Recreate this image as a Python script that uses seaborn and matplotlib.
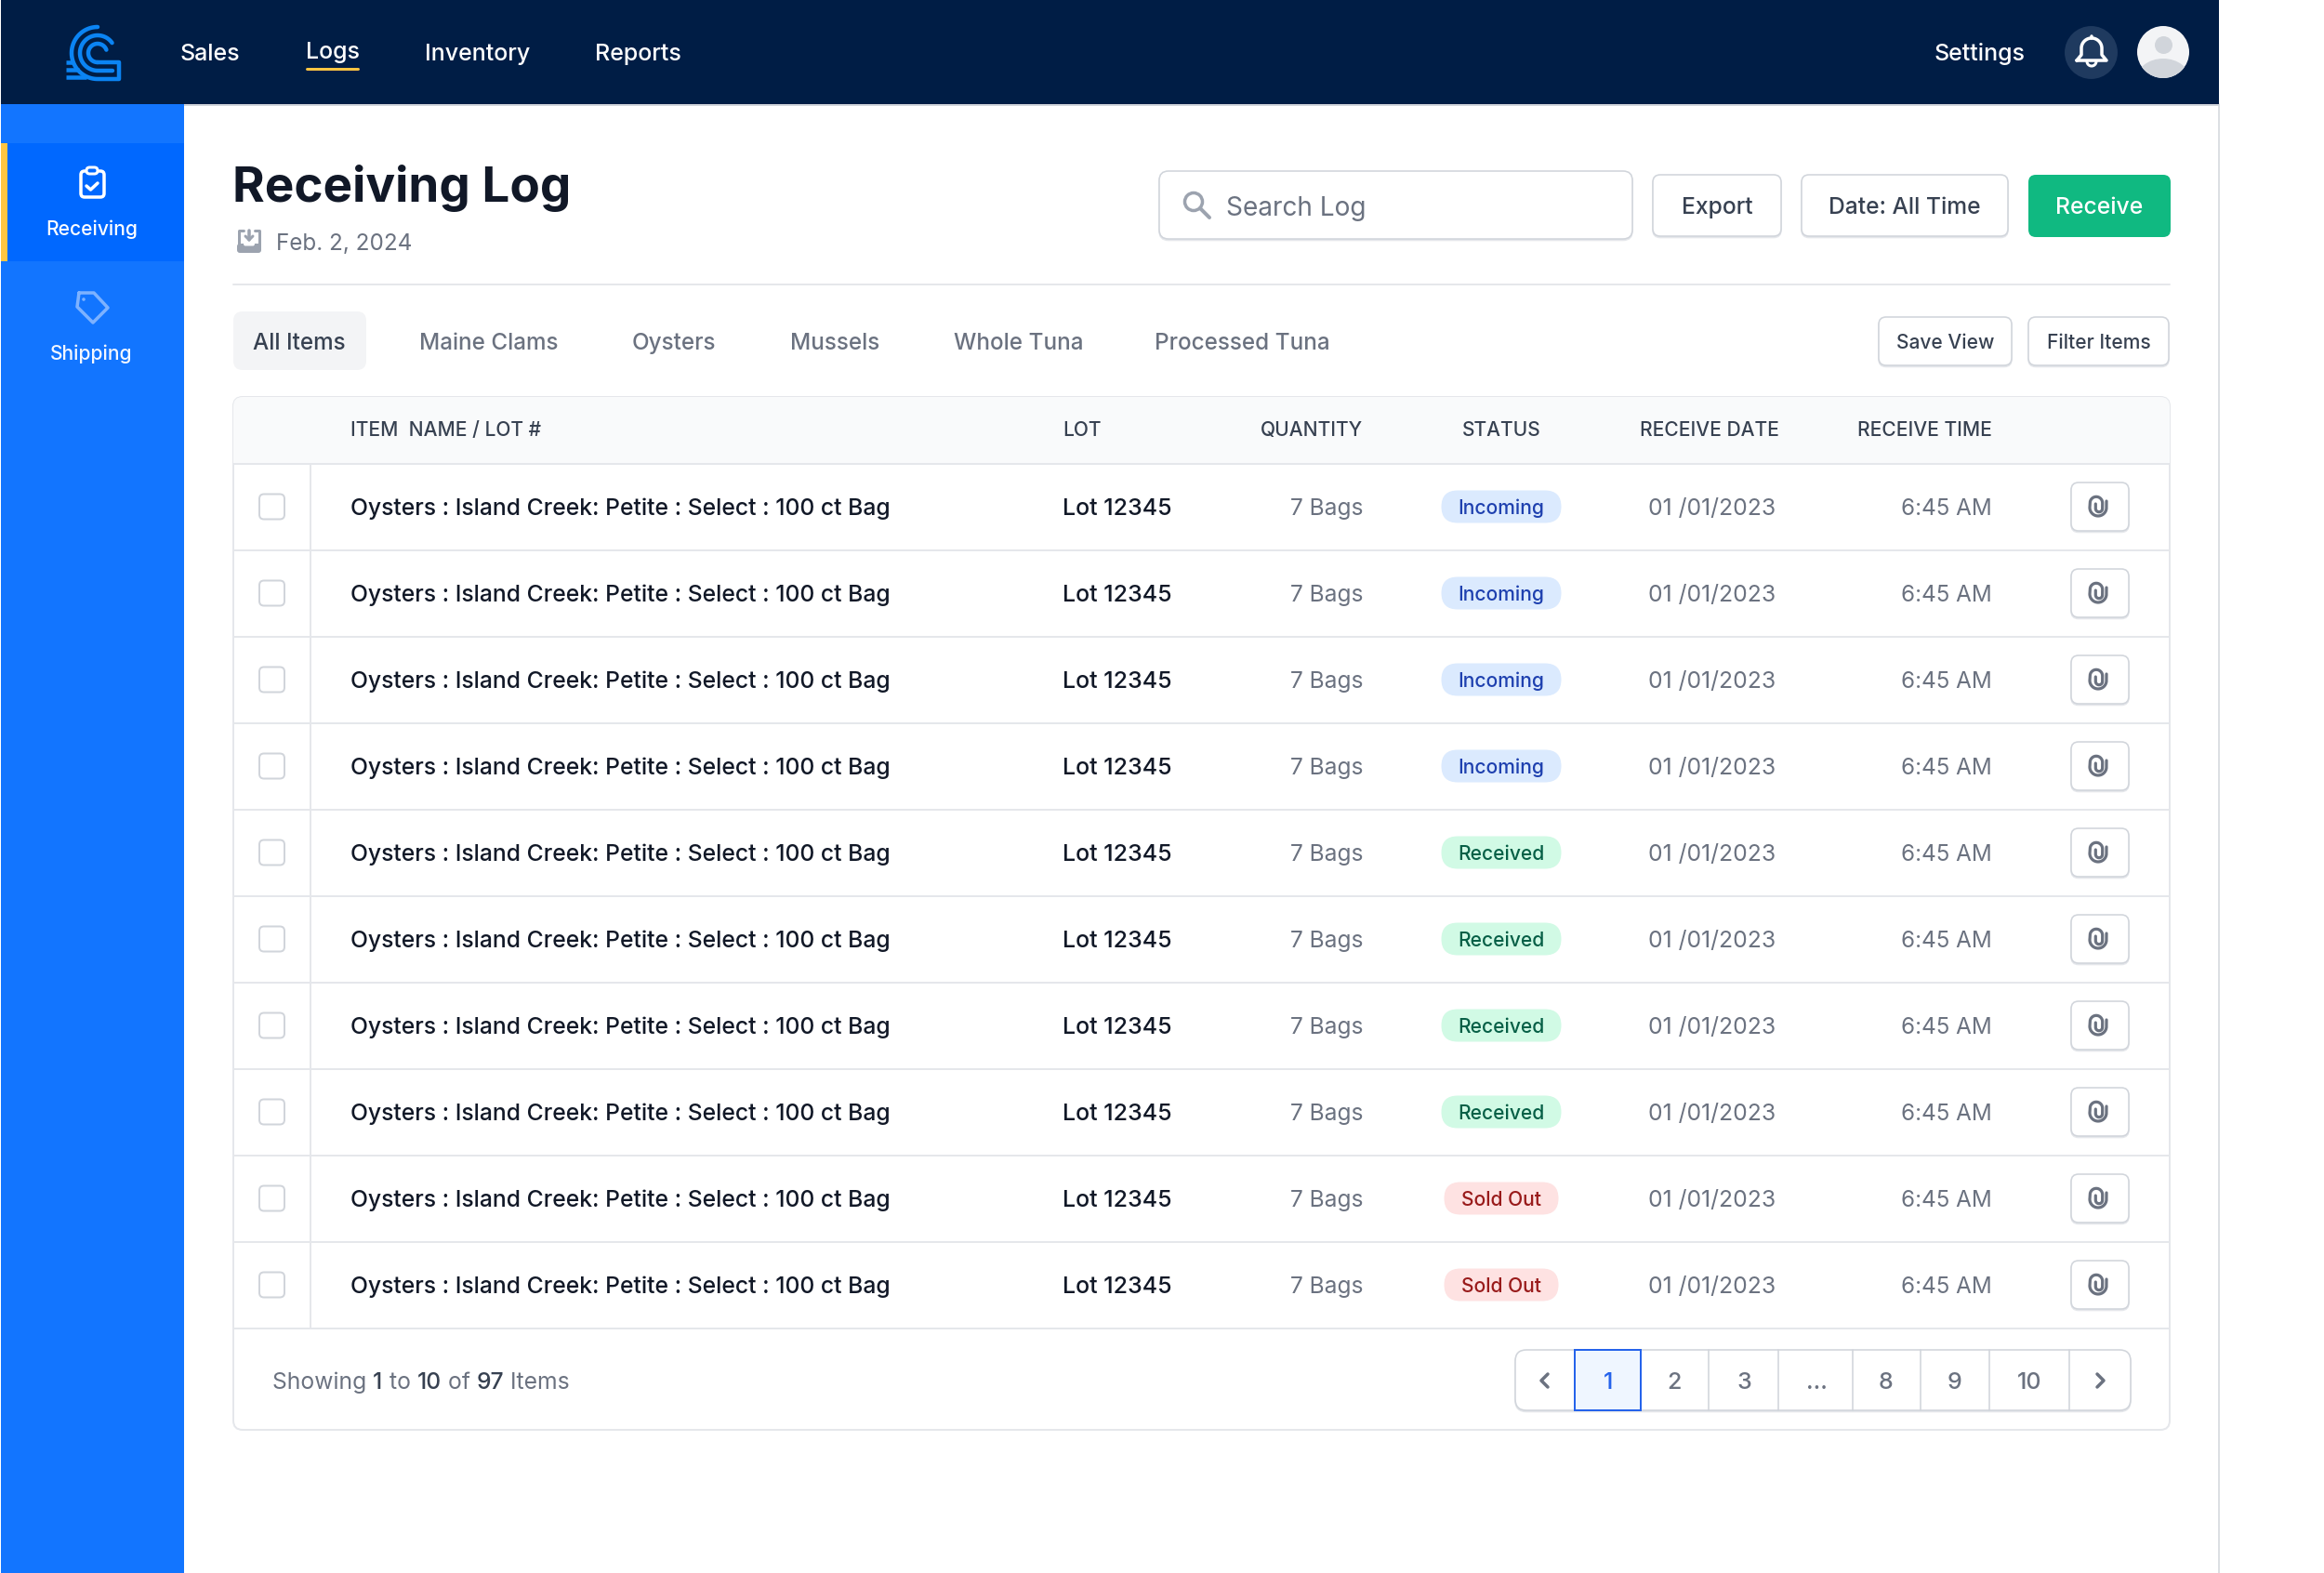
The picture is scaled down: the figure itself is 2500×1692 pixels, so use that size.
import numpy as np
import pandas as pd
import seaborn as sns
import matplotlib
matplotlib.use("Agg")
import matplotlib.pyplot as plt
from matplotlib.patches import FancyBboxPatch, Rectangle, Circle, Ellipse

sns.set_theme(style="white")
plt.rcParams['font.family'] = ['Inter', 'DejaVu Sans']

# data
nav_items = ['Sales', 'Logs', 'Inventory', 'Reports']
side_items = ['Receiving', 'Shipping']
tabs = ['All Items', 'Maine Clams', 'Oysters', 'Mussels', 'Whole Tuna', 'Processed Tuna']
columns = ['ITEM  NAME / LOT #', 'LOT', 'QUANTITY', 'STATUS', 'RECEIVE DATE', 'RECEIVE TIME']
items = ['Oysters : Island Creek: Petite : Select : 100 ct Bag'] * 10
lots = ['Lot 12345'] * 10
quantities = ['7 Bags'] * 10
statuses = ['Incoming'] * 4 + ['Received'] * 4 + ['Sold Out'] * 2
dates = ['01 /01/2023'] * 10
times = ['6:45 AM'] * 10
pages = ['1', '2', '3', '...', '8', '9', '10']

df = pd.DataFrame({'item': items, 'lot': lots, 'qty': quantities,
                   'status': statuses, 'date': dates, 'time': times})

# colours
NAVY = '#001D45'
BLUE = '#1275FF'
ACTIVE = '#0068FF'
YELLOW = '#FFC542'
LINE = '#E5E7EB'
BORDER = '#D1D5DB'
GRAY = '#6B7280'
DARK = '#374151'
INK = '#111827'
pill_bg = {'Incoming': '#DBEAFE', 'Received': '#D1FAE5', 'Sold Out': '#FEE2E2'}
pill_fg = {'Incoming': '#1E40AF', 'Received': '#065F46', 'Sold Out': '#991B1B'}
pill_w = {'Incoming': 129, 'Received': 129, 'Sold Out': 123}

fig = plt.figure(figsize=(25, 16.92), dpi=100, facecolor='white')
ax = fig.add_axes([0, 0, 1, 1])
ax.set_xlim(0, 2500)
ax.set_ylim(1692, 0)


def px(v):
    return v * 0.72


def label(x, yc, s, size, color=INK, weight='normal', ha='left'):
    # yc is the middle of the capitals
    return ax.text(x, round(yc + 0.36 * size), s, fontsize=px(size), color=color,
                   fontweight=weight, ha=ha, va='baseline', zorder=6)


def box(x0, y0, x1, y1, r=8, fc='white', ec='none', lw=2, z=3):
    p = FancyBboxPatch((x0, y0), x1 - x0, y1 - y0,
                       boxstyle=f"round,pad=0,rounding_size={r}",
                       fc=fc, ec=ec, lw=px(lw), zorder=z)
    ax.add_patch(p)
    return p


def rect(x0, y0, x1, y1, fc, z=1):
    p = Rectangle((x0, y0), x1 - x0, y1 - y0, fc=fc, ec='none', zorder=z)
    ax.add_patch(p)
    return p


def stroke(xs, ys, color, lw, z=5):
    ax.plot(xs, ys, color=color, lw=px(lw), solid_capstyle='round',
            solid_joinstyle='round', zorder=z)


def arc(cx, cy, r, a0, a1):
    # angles in degrees, 0 = right, 90 = up on the screen
    t = np.radians(np.linspace(a0, a1, 50))
    return cx + r * np.cos(t), cy - r * np.sin(t)


def button(x0, y0, x1, y1, r=8):
    box(x0, y0 + 1.5, x1, y1 + 1.5, r=r, fc=LINE, ec=LINE, lw=1.6, z=2)
    box(x0, y0, x1, y1, r=r, fc='white', ec=BORDER, lw=1.6, z=3)


# page frame
rect(1, 0, 2387, 112, NAVY, z=2)
rect(1, 112, 2387, 114, BORDER, z=1)
rect(1, 112, 198, 1692, BLUE, z=2)
rect(1, 154, 198, 281, ACTIVE, z=3)
rect(1, 154, 8, 281, YELLOW, z=4)
ax.plot([2387, 2387], [112, 1692], color=BORDER, lw=px(1.5), zorder=1)
ax.plot([0.5, 0.5], [0, 1692], color='#C9CDD3', lw=px(1), zorder=1)

# logo
LOGO = '#0B84F3'
cx, cy = 105, 57
xa, ya = arc(cx, cy, 28, 90, 270)
stroke(np.r_[xa, 128, 128, 105], np.r_[ya, 85, 67, 67], LOGO, 4.5)
xb, yb = arc(cx, cy, 10, 270, 20)
stroke(xb, yb, LOGO, 4.5)
xa, ya = arc(cx, cy, 19, 35, 270)
stroke(np.r_[xa, 121], np.r_[ya, 76], LOGO, 4.5)
for y, x1 in zip([67, 75, 83], [78, 85, 93]):
    ax.plot([71, x1], [y, y], color=LOGO, lw=px(4.5), solid_capstyle='butt', zorder=4)

# top navigation
for name, x, yc in zip(nav_items, [194, 329, 457, 640], [56, 54, 56, 56]):
    label(x, yc, name, 25, color='white', weight='medium')
ax.plot([330, 385], [74, 74], color=YELLOW, lw=px(3), solid_capstyle='round', zorder=5)
label(2081, 56, 'Settings', 25, color='white', weight='medium')

# bell and avatar
sns.scatterplot(x=[2249], y=[56], s=1680, color='#1F3A5F', linewidth=0, legend=False, ax=ax, zorder=4)
xa, ya = arc(2250, 52, 11, 0, 180)
stroke(np.r_[2234, 2239, xa[::-1], 2261, 2266, 2234],
       np.r_[65, 59, ya[::-1], 59, 65, 65], 'white', 3.5)
xa, ya = arc(2250, 66, 5, 180, 360)
stroke(xa, ya, 'white', 3)
stroke([2250, 2250], [39, 41], 'white', 3.5)

avatar = Circle((2327, 56), 28, fc='#F3F4F6', ec='none', zorder=4)
ax.add_patch(avatar)
body = Ellipse((2327, 86), 58, 46, fc=BORDER, ec='none', zorder=5)
ax.add_patch(body)
body.set_clip_path(avatar)
sns.scatterplot(x=[2327], y=[48], s=187, color=BORDER, linewidth=0, legend=False, ax=ax, zorder=5)

# sidebar
label(99, 245, side_items[0], 21, color='white', weight='medium', ha='center')
label(98.5, 379, side_items[1], 21, color='#F3F7FF', weight='medium', ha='center')
box(87, 184, 112, 212, r=4, fc='none', ec='white', lw=3.5, z=5)
box(93, 180, 105, 187, r=3.5, fc=ACTIVE, ec='white', lw=3, z=6)
stroke([93, 97.5, 105], [200, 204, 197], 'white', 3.5)
tag_col = '#7DB2FF'
stroke([85, 101, 116, 100, 83, 85], [315, 315, 331, 347, 330, 315], tag_col, 3.5)
ax.add_patch(Circle((90, 322), 1.8, fc=tag_col, ec='none', zorder=5))

# title row
label(250, 198, 'Receiving Log', 53, color=INK, weight='bold')
label(297, 260, 'Feb. 2, 2024', 24.2, color=GRAY)
ic = '#9CA3AF'
stroke([262, 257, 257], [248, 248, 264], ic, 3)
stroke([274, 279, 279], [248, 248, 264], ic, 3)
stroke([268, 268], [248, 258], ic, 3.5)
stroke([264, 268, 272], [254, 258, 254], ic, 3)
box(255, 262, 281, 272, r=3, fc=ic, ec='none', z=4)
box(262, 261, 274, 264.5, r=2, fc='white', ec='none', z=5)

# search and buttons
button(1247, 184, 1756, 257, r=10)
label(1319, 222, 'Search Log', 28, color=GRAY)
ax.add_patch(Circle((1284, 217), 9.5, fc='none', ec=ic, lw=px(3.5), zorder=5))
stroke([1291, 1301], [224, 234], ic, 4)
button(1778, 188, 1916, 254)
label(1847, 221, 'Export', 24.7, color=DARK, weight='medium', ha='center')
button(1938, 188, 2160, 254)
label(2049, 221, 'Date: All Time', 24.6, color=DARK, weight='medium', ha='center')
box(2182, 188, 2335, 255, r=8, fc='#10B981', z=3)
label(2258, 221, 'Receive', 24.7, color='white', weight='medium', ha='center')
ax.plot([251, 2334], [306, 306], color=LINE, lw=px(2), zorder=2)

# tabs
box(251, 335, 394, 398, r=10, fc='#F3F4F6', z=2)
for i, (name, x) in enumerate(zip(tabs, [272, 451, 680, 850, 1026, 1242])):
    label(x, 367, name, 24.3, color=DARK if i == 0 else GRAY, weight='medium')
button(2021, 341, 2164, 393)
label(2092.5, 367, 'Save View', 21, color=DARK, weight='medium', ha='center')
button(2182, 341, 2333, 393)
label(2257.5, 367, 'Filter Items', 21, color=DARK, weight='medium', ha='center')

# table
frame = box(251, 427, 2334, 1538, r=10, fc='white', ec=LINE, lw=2, z=2)
head = rect(251, 427, 2334, 499, '#F9FAFB', z=2)
head.set_clip_path(frame)
head_x = [377, 1143, 1466, 1615, 1764, 2143]
head_ha = ['left', 'left', 'right', 'center', 'left', 'right']
for name, x, ha in zip(columns, head_x, head_ha):
    label(x, 461, name, 21, color=DARK, weight='medium', ha=ha)

top = 499
row_h = 93
ax.plot([251, 2334], [top, top], color=LINE, lw=px(2), zorder=3)
ax.plot([334, 334], [top, top + 10 * row_h], color=LINE, lw=px(2), zorder=3)
for i, row in df.iterrows():
    yc = top + row_h * i + 46
    ax.plot([251, 2334], [top + row_h * (i + 1)] * 2, color=LINE, lw=px(2), zorder=3)
    box(279, yc - 13.5, 306, yc + 13.5, r=5, fc='white', ec=BORDER, lw=2)
    label(377, yc, row['item'], 24.7, color=INK, weight='medium')
    label(1143, yc, row['lot'], 25, color=INK, weight='medium')
    label(1466, yc, row['qty'], 24.5, color=GRAY, ha='right')
    w = pill_w[row['status']]
    box(1615 - w / 2, yc - 17.5, 1615 + w / 2, yc + 17.5, r=17.5, fc=pill_bg[row['status']])
    label(1615, yc, row['status'], 21, color=pill_fg[row['status']], weight='medium', ha='center')
    label(1773, yc, row['date'], 24.7, color=GRAY)
    label(2143, yc, row['time'], 24.2, color=GRAY, ha='right')
    button(2228, yc - 26, 2290, yc + 26)
    # paperclip
    xa, ya = arc(2257, yc + 1, 9, 360, 180)
    xb, yb = arc(2255, yc - 4, 6.7, 180, 0)
    xc, yc2 = arc(2258, yc + 2, 3.7, 360, 180)
    stroke(np.r_[2266, xa, xb, xc, 2254.3], np.r_[yc - 6, ya, yb, yc2, yc - 3], GRAY, 3.2)

# footer
x = 293
for text, weight, col in [('Showing ', 'normal', GRAY), ('1', 'medium', DARK), (' to ', 'normal', GRAY),
                          ('10', 'medium', DARK), (' of ', 'normal', GRAY), ('97', 'medium', DARK),
                          (' Items', 'normal', GRAY)]:
    t = label(x, 1485, text, 24.7, color=col, weight=weight)
    # trailing and leading spaces count in the text width
    x = t.get_window_extent(fig.canvas.get_renderer()).x1

# pagination
button(1630, 1452, 2292, 1517, r=12)
for x in [1838, 1913, 1993, 2066, 2140, 2226]:
    ax.plot([x, x], [1452, 1517], color=BORDER, lw=px(1.6), zorder=4)
rect(1694, 1452, 1765, 1517, '#EFF6FF', z=4)
ax.add_patch(Rectangle((1694, 1452), 71, 65, fc='none', ec='#2563EB', lw=px(2), zorder=5))
for i, (p, x) in enumerate(zip(pages, [1730, 1801, 1876, 1954, 2029, 2103, 2183])):
    label(x, 1485, p, 25, color='#2563EB' if i == 0 else GRAY, weight='medium', ha='center')
stroke([1665, 1658, 1665], [1478, 1485, 1492], GRAY, 3.5)
stroke([2256, 2263, 2256], [1478, 1485, 1492], GRAY, 3.5)

ax.set_xlim(0, 2500)
ax.set_ylim(1692, 0)
ax.axis('off')
fig.savefig('out.png', dpi=100, facecolor='white')
